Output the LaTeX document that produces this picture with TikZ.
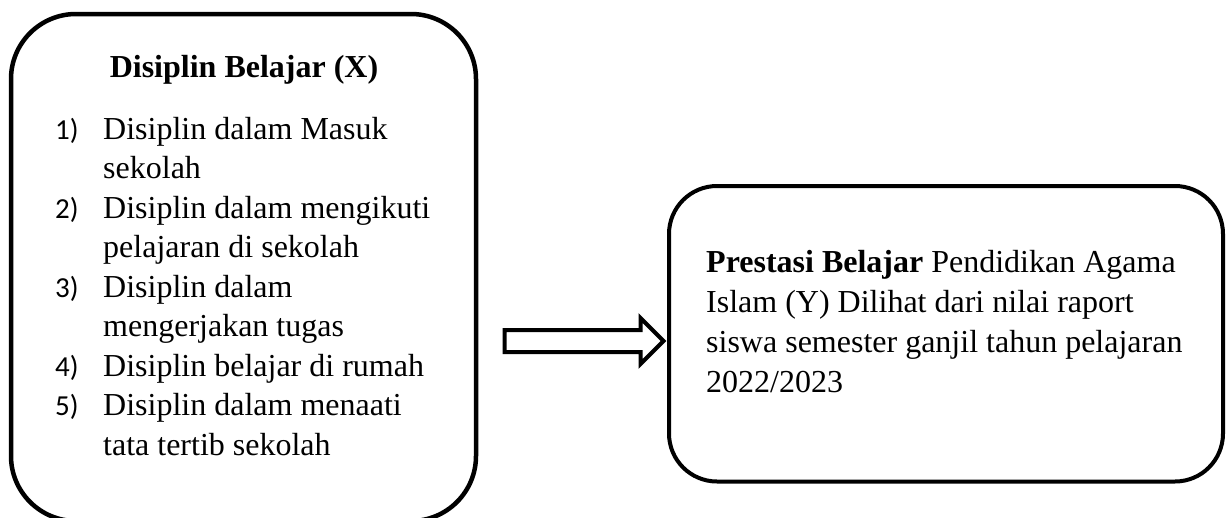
\documentclass[tikz,border=0pt]{standalone}
\usepackage{fontspec}
\setmainfont{Liberation Serif}
\newfontfamily\numfont{Carlito}
\usetikzlibrary{shapes.arrows}

\newcommand{\itemnum}[1]{{\numfont\fontsize{29}{39.5}\selectfont #1)}}

\begin{document}
\begin{tikzpicture}[x=1pt,y=-1pt,
    box/.style={draw, rounded corners=#1, inner sep=0pt},
    txt/.style={inner sep=0pt, font=\fontsize{32}{39.5}\selectfont}]
    \useasboundingbox (0,0) rectangle (1232,517);
    % the two boxes
    \node[box=65pt, line width=4.5pt, minimum width=465pt, minimum height=507pt] at (243.5,267.5) (X) {};
    \node[box=48pt, line width=4pt, minimum width=554pt, minimum height=295.5pt] at (946,333.75) (Y) {};
    % block arrow between them
    \node[draw, single arrow, line width=4pt, single arrow head extend=12pt, inner xsep=0pt, inner ysep=9pt, minimum height=159pt] at (578.5,341) (arr) {};
    % texts
    \node[txt, anchor=base] at (244,77) (Xtitle) {\bfseries Disiplin Belajar (X)};
    \node[txt, anchor=base west] at (55,139) (Xlist) {\begin{tabular}[t]{@{}p{48pt}@{}l@{}}
        \itemnum{1} & Disiplin dalam Masuk\\
                    & sekolah\\
        \itemnum{2} & Disiplin dalam mengikuti\\
                    & pelajaran di sekolah\\
        \itemnum{3} & Disiplin dalam\\
                    & mengerjakan tugas\\
        \itemnum{4} & Disiplin belajar di rumah\\
        \itemnum{5} & Disiplin dalam menaati\\
                    & tata tertib sekolah
    \end{tabular}};
    \node[txt, anchor=base west, font=\fontsize{32}{40.3}\selectfont] at (706,272) (Ytext) {\begin{tabular}[t]{@{}l@{}}
        \textbf{Prestasi Belajar} Pendidikan Agama\\
        Islam (Y) Dilihat dari nilai raport\\
        siswa semester ganjil tahun pelajaran\\
        2022/2023
    \end{tabular}};
\end{tikzpicture}
\end{document}
